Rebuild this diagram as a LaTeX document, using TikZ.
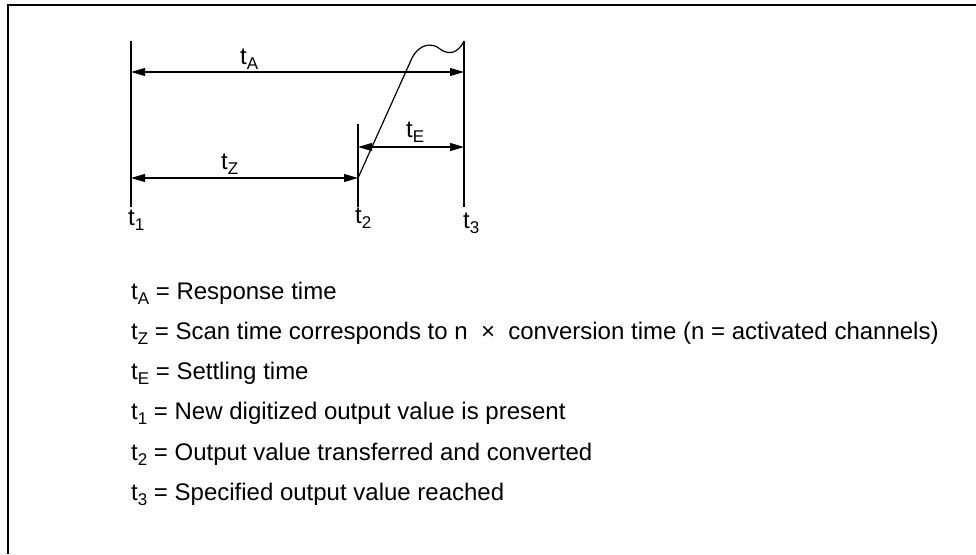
\documentclass[tikz,border=0pt]{standalone}
\usepackage{fontspec}
\setmainfont{Liberation Sans}
\usetikzlibrary{arrows.meta}
\newcommand{\tsub}[1]{t\raisebox{-5pt}{\fontsize{17}{20}\selectfont #1}}

\begin{document}
\begin{tikzpicture}[x=1pt, y=-1pt,
  timeline/.style={draw=black, line width=1.3pt},
  dimline/.style={{Triangle[length=14pt, width=8pt]}-{Triangle[length=14pt, width=8pt]}, line width=1.2pt},
  signal/.style={draw=black, line width=1.2pt},
  lbl/.style={font=\fontsize{24}{28}\selectfont, inner sep=0pt, anchor=base west},
  legend/.style={font=\fontsize{24}{28}\selectfont, inner sep=0pt, anchor=base west}
]
\useasboundingbox (0,0) rectangle (976,554);

% Frame
\draw[line width=1.6pt] (8,554) -- (8,5) -- (976,5);

% Time lines
\coordinate (t1top) at (131,41);
\coordinate (t1bot) at (131,207);
\coordinate (t2top) at (358,124);
\coordinate (t2bot) at (358,207);
\coordinate (t3top) at (464,41);
\coordinate (t3bot) at (464,207);

\draw[timeline] (t1top) -- (t1bot);
\draw[timeline] (t2top) -- (t2bot);
\draw[timeline] (t3top) -- (t3bot);

% Intervals
\coordinate (aL) at (131,72);
\coordinate (aR) at (464,72);
\coordinate (zL) at (131,178);
\coordinate (zR) at (358,178);
\coordinate (eL) at (358,147);
\coordinate (eR) at (464,147);

\draw[dimline] (aL) -- (aR);
\draw[dimline] (zL) -- (zR);
\draw[dimline] (eL) -- (eR);

% Output signal
\draw[signal] (zR) -- (412,58) .. controls (419,44) and (432,42) .. (440,49)
  .. controls (448,55) and (458,54) .. (t3top);

% Interval labels
\node[lbl] (tA) at (240,64) {\tsub{A}};
\node[lbl] (tZ) at (221,169) {\tsub{Z}};
\node[lbl] (tE) at (406,137) {\tsub{E}};

% Time point labels
\node[lbl] (t1) at (128,225) {\tsub{1}};
\node[lbl] (t2) at (355,223) {\tsub{2}};
\node[lbl] (t3) at (463,228) {\tsub{3}};

% Legend
\node[legend] (legA) at (131,299) {\tsub{A} = Response time};
\node[legend] (legZ) at (131,339) {\tsub{Z} = Scan time corresponds to n~~×~~conversion time (n = activated channels)};
\node[legend] (legE) at (131,379) {\tsub{E} = Settling time};
\node[legend] (leg1) at (131,419) {\tsub{1} = New digitized output value is present};
\node[legend] (leg2) at (131,460) {\tsub{2} = Output value transferred and converted};
\node[legend] (leg3) at (131,500) {\tsub{3} = Specified output value reached};

\end{tikzpicture}
\end{document}
